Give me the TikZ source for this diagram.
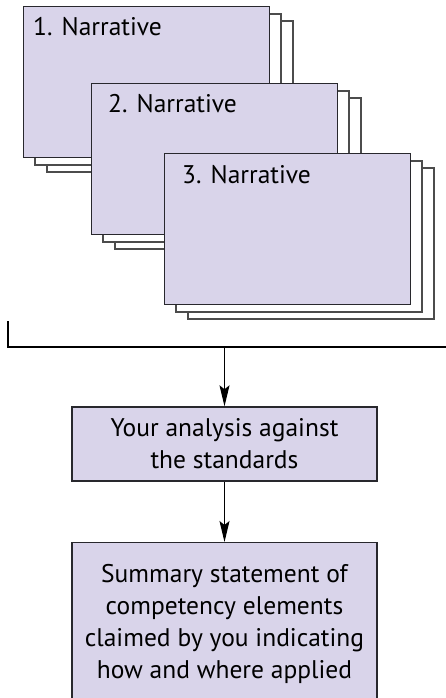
\documentclass[tikz,border=0pt]{standalone}
\usepackage{fontspec}
\setmainfont{PT Sans}
\usepackage{tikz}
\usetikzlibrary{arrows.meta, positioning}
\definecolor{lavender}{RGB}{217,212,234}
\definecolor{edge}{RGB}{40,40,45}

\tikzset{
  narbox/.style={draw=edge, line width=1.4pt, fill=lavender, minimum width=246pt, minimum height=151pt, inner sep=0pt, anchor=north west},
  backbox/.style={draw=black!70, line width=1.1pt, fill=white},
  stepbox/.style={draw=edge, line width=1.4pt, fill=lavender, minimum width=305pt, align=center, inner sep=0pt},
  flow/.style={-{Stealth[length=21pt,width=10pt,inset=4pt]}, line width=1.1pt}
}

\begin{document}
\begin{tikzpicture}[x=1pt, y=-1pt, font=\fontsize{25.5}{32}\selectfont]
  \useasboundingbox (0,0) rectangle (446,698);
  % three stacked narratives
  \foreach \x/\y/\dx/\n in {23/6/10/1, 91/83/17/2, 164/153/18/3} {
    \draw[backbox] (\x+24,\y+15) rectangle ++(246,151);
    \draw[backbox] (\x+12,\y+8) rectangle ++(246,151);
    \node[narbox] (nar\n) at (\x,\y) {};
    \node[anchor=base west, inner sep=0pt] (lab\n) at ([xshift=\dx pt, yshift=-30pt]nar\n.north west) {\n. Narrative};
  }
  % bracket under the stacks
  \coordinate (brk) at (224.5,347);
  \draw[line width=1.4pt] (8,321) -- (8,347) -- (446,347);
  \node[stepbox, minimum height=74pt] (analysis) at (224.5,444) {Your analysis against\\the standards};
  \node[stepbox, minimum height=162pt, anchor=north] (summary) at (224.5,542)
    {Summary statement of\\competency elements\\claimed by you indicating\\how and where applied};
  \draw[flow] (brk) -- (analysis);
  \draw[flow] (analysis) -- (summary);
\end{tikzpicture}
\end{document}
